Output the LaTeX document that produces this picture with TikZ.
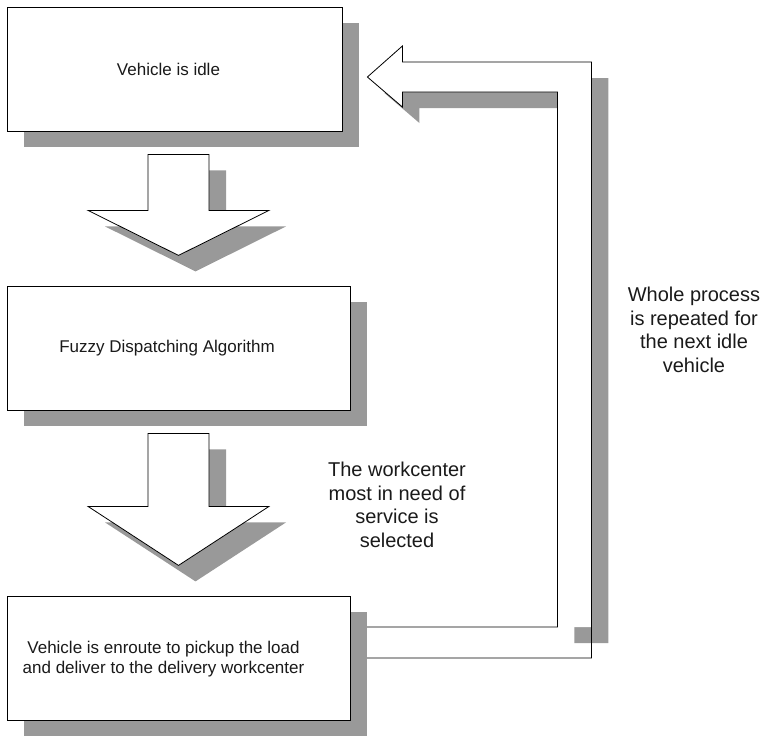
\documentclass[tikz,border=0pt]{standalone}
\usepackage{fontspec}
\setmainfont{Liberation Sans}
\usetikzlibrary{calc,shadows}
\definecolor{shgray}{HTML}{999999}
\definecolor{txt}{HTML}{1A1A1A}
\pgfdeclarelayer{bg}
\pgfsetlayers{bg,main}
\tikzset{
  stagebox/.style={draw=black, line width=0.8pt, fill=white,
    minimum width=#1, minimum height=124pt, inner sep=0pt,
    drop shadow={shadow xshift=17pt, shadow yshift=-16pt, fill=shgray, opacity=1}},
  boxtext/.style={align=center, text=txt, inner sep=0pt,
    font=\fontsize{17}{20}\selectfont},
  note/.style={align=center, text=txt, inner sep=0pt,
    font=\fontsize{20}{23.5}\selectfont},
  outl/.style={draw=black, line width=0.8pt, fill=white, line join=miter},
}
\newcommand\fatdown[2]{%
  \fill[shgray,shift={(17,16)}] (-30.5,0) -- (30.5,0) -- (30.5,#1) -- (90.5,#1) -- (0,#2) -- (-90.5,#1) -- (-30.5,#1) -- cycle;
  \draw[outl] (-30.5,0) -- (30.5,0) -- (30.5,#1) -- (90.5,#1) -- (0,#2) -- (-90.5,#1) -- (-30.5,#1) -- cycle;}
\begin{document}
\begin{tikzpicture}[x=1pt,y=-1pt]
\useasboundingbox (0,0) rectangle (766,737);

\node[stagebox=335pt, label={[boxtext,xshift=-6pt]center:Vehicle is idle}] (idle) at (174.5,69) {};
\node[stagebox=343pt, label={[boxtext,xshift=-11.5pt]center:Fuzzy Dispatching Algorithm}] (fuzzy) at (178.5,348) {};
\node[stagebox=343pt, label={[boxtext,xshift=-15pt,yshift=-1pt]center:Vehicle is enroute to pickup the load\\and deliver to the delivery workcenter}] (enroute) at (178.5,658) {};

\node[note] (sel) at (397,505) {The workcenter\\most in need of\\service is\\selected};
\node[note] (rep) at (694,330) {Whole process\\is repeated for\\the next idle\\vehicle};

\coordinate (tip) at ($(idle.east)+(25,8)$);

\begin{pgfonlayer}{bg}
  \begin{scope}[shift={($(idle.south)+(4,23)$)}]
    \fatdown{56}{101}
  \end{scope}
  \begin{scope}[shift={($(fuzzy.south)+(0,23)$)}]
    \fatdown{73}{132}
  \end{scope}
  \begin{scope}[shift={(tip)}]
    \fill[white] (-27,550) rectangle (224,581);
    \fill[shgray,shift={(17,16)}] (0,0) -- (35,-31) -- (35,-15) -- (224,-15) -- (224,550) -- (190,550) -- (190,15) -- (35,15) -- (35,30) -- cycle;
    \fill[white] (0,0) -- (35,-31) -- (35,-15) -- (224,-15) -- (224,550) -- (190,550) -- (190,15) -- (35,15) -- (35,30) -- cycle;
    \draw[outl,fill=none] (-27,550) -- (190,550) -- (190,15) -- (35,15) -- (35,30) -- (0,0) -- (35,-31) -- (35,-15) -- (224,-15) -- (224,581) -- (-27,581);
  \end{scope}
\end{pgfonlayer}
\end{tikzpicture}
\end{document}
